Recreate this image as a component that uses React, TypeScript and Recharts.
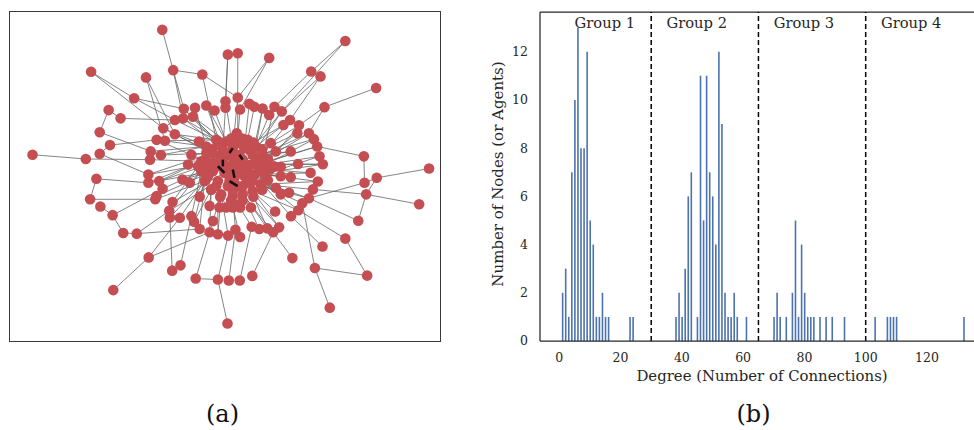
import React from "react";
import {
  ComposedChart,
  Line,
  Scatter,
  Bar,
  XAxis,
  YAxis,
  ReferenceLine,
} from "recharts";

// ---- network layout (a) ----
// node positions in layout units (x to the right, y downwards)
const outerNodes: [number, number][] = [
  [487, 87], [1040, 121], [685, 162], [715, 158], [810, 172], [272, 214],
  [520, 209], [608, 222], [438, 231], [937, 213], [965, 228], [1133, 263],
  [402, 294], [715, 292], [977, 321], [325, 330], [361, 355], [298, 397],
  [329, 436], [95, 465], [256, 478], [298, 462], [1096, 470], [1293, 507],
  [1135, 535], [1098, 550], [1103, 585], [1263, 615], [288, 538], [269, 600],
  [300, 622], [337, 648], [369, 702], [410, 704], [1079, 665], [1040, 719],
  [971, 743], [880, 778], [948, 808], [1106, 831], [993, 928], [446, 776],
  [339, 875], [517, 816], [542, 800], [588, 840], [655, 843], [688, 846],
  [721, 846], [759, 832], [684, 976],
];

const ringNodes: [number, number][] = [
  [552, 326], [586, 323], [620, 316], [645, 331], [678, 303], [678, 323],
  [722, 328], [750, 311], [765, 320], [790, 325], [810, 345], [826, 320],
  [848, 334], [873, 360], [900, 376], [853, 375], [895, 400], [930, 400],
  [945, 418], [955, 440], [962, 470], [972, 494], [935, 520], [957, 546],
  [942, 570], [930, 597], [910, 612], [898, 633], [876, 651], [840, 685],
  [822, 700], [804, 688], [780, 690], [757, 683], [722, 714], [708, 692],
  [686, 710], [655, 706], [630, 700], [600, 690], [583, 668], [575, 651],
  [540, 656], [510, 655], [508, 635], [518, 608], [488, 568], [478, 545],
  [470, 590], [445, 550], [445, 525], [450, 480], [452, 455], [483, 466],
  [470, 420], [495, 423], [525, 403], [490, 385], [525, 360], [550, 355],
  [580, 350], [845, 502], [845, 530], [875, 455], [875, 533], [897, 493],
  [870, 580], [845, 585], [830, 565], [828, 637], [755, 625], [722, 625],
  [700, 625], [680, 625], [660, 625], [630, 620], [640, 666], [600, 592],
  [570, 550], [548, 540], [565, 495], [575, 465], [598, 425], [830, 455],
  [815, 430], [466, 600],
];

const coreNodes: [number, number][] = [
  [620, 440], [650, 420], [680, 425], [715, 415], [745, 420], [770, 440],
  [790, 465], [800, 495], [795, 525], [785, 555], [760, 575], [730, 585],
  [700, 590], [665, 585], [635, 570], [615, 545], [605, 515], [605, 485],
  [640, 460], [670, 450], [700, 445], [735, 445], [760, 465], [770, 495],
  [765, 525], [745, 550], [715, 560], [685, 560], [655, 545], [640, 515],
  [640, 490], [670, 480], [700, 475], [730, 480], [745, 505], [735, 530],
  [705, 535], [675, 520], [690, 500], [720, 505], [655, 500], [700, 510],
  [812, 510], [806, 542], [789, 571], [762, 592], [729, 604], [695, 604],
  [662, 592], [635, 571], [618, 542], [612, 510], [618, 478], [635, 449],
  [662, 428], [695, 416], [729, 416], [762, 428], [789, 449], [806, 478],
  [655, 435], [715, 430], [690, 460], [720, 465], [750, 450], [780, 510],
  [755, 495], [725, 520], [690, 530], [660, 470], [625, 500], [625, 530],
  [650, 560], [700, 575], [730, 560], [760, 545], [780, 480], [670, 500],
  [710, 490], [690, 545], [750, 525], [620, 460], [595, 500], [825, 500],
  [712, 400], [712, 618],
];

const outerLinks =
  "o0-o6 o6-o7 o6-r0 o6-r59 o7-o13 o7-c1 o2-r4 o2-r5 o3-o13 o4-o13 o4-r6 o13-c3 o13-c20 " +
  "o1-r12 o1-o9 o9-r11 o10-r13 o10-r12 o11-o14 o14-r14 o14-r17 o5-r57 o5-o12 o8-r56 o8-r55 " +
  "o12-r58 o12-r0 o15-o16 o15-o17 o16-r58 o17-r53 o18-r54 o18-o21 o19-o20 o20-r51 o21-r50 " +
  "o22-r19 o22-o25 o23-o24 o24-o25 o24-o26 o25-r25 o26-r24 o26-o34 o27-o26 o28-r49 o28-o29 " +
  "o29-r85 o30-o31 o31-r46 o31-o32 o32-o33 o33-r44 o33-r39 o34-r25 o35-r27 o35-o39 o36-r28 " +
  "o37-r30 o38-o39 o38-r26 o40-o38 o41-r42 o41-r38 o42-o41 o43-r43 o44-r41 o45-o46 o45-r76 " +
  "o46-o50 o46-r36 o47-r35 o48-r33 o49-r30";

const ringLinks =
  "r0-c1 r1-c0 r2-c19 r3-c2 r4-c20 r5-c19 r6-c3 r7-c21 r8-c4 r9-c22 r10-c5 r11-c6 r12-c22 " +
  "r13-c6 r14-c7 r15-c21 r16-c23 r17-c6 r18-c7 r19-c23 r20-c8 r21-c7 r22-c24 r23-c8 r24-c9 " +
  "r25-c25 r26-c9 r27-c10 r28-c24 r29-c10 r30-c11 r31-c26 r32-c11 r33-c12 r34-c27 r35-c12 " +
  "r36-c13 r37-c28 r38-c14 r39-c15 r40-c14 r41-c16 r42-c15 r43-c29 r44-c16 r45-c17 r46-c16 " +
  "r47-c30 r48-c29 r49-c17 r50-c18 r51-c17 r52-c0 r53-c18 r54-c0 r55-c1 r56-c18 r57-c0 " +
  "r58-c1 r59-c19 r60-c2 r61-c23 r62-c24 r63-c6 r64-c8 r65-c7 r66-c25 r67-c9 r68-c25 " +
  "r69-c10 r70-c26 r71-c27 r72-c12 r73-c13 r74-c28 r75-c14 r76-c13 r77-c15 r78-c16 r79-c29 " +
  "r80-c30 r81-c18 r82-c19 r83-c22 r84-c21 r85-c15 r57-c31 r54-c40 r50-c30 r12-c33 r17-c23 " +
  "r22-c34 r25-c35 r29-c36 r45-c37 r59-c20 r14-c22 r19-c34 r63-c33 r66-c39 r0-c19 r60-c32 " +
  "r44-c28 r49-c29 r21-c24 r18-c33 r16-c22 r57-r58 r52-r53 r46-r48 r45-r43 r26-r27 r21-r65 " +
  "r13-c5 r20-c7 r23-c9 r27-c24 r31-c25 r37-c13 r40-c15 r47-c17 r53-c0 r56-c1 r2-c2 r9-c5";

// the dark bits showing through in the middle of the core
const coreLinks = ["c31-c77", "c41-c36", "c33-c63", "c20-c62", "c37-c40", "c26-c79"];

// ---- degree histogram (b) ----
const degrees = [
  1, 2, 3, 4, 5, 6, 7, 8, 9, 10, 11, 12, 13, 14, 15, 16, 23, 24,
  38, 39, 40, 41, 42, 43, 45, 46, 47, 48, 49, 50, 51, 52, 53, 54, 55, 56, 57, 58, 61,
  70, 71, 72, 74, 76, 77, 78, 79, 80, 81, 82, 83, 85, 87, 89, 93,
  103, 107, 108, 109, 110, 132,
];
const counts = [
  2, 3, 1, 7, 10, 13, 8, 8, 12, 5, 4, 1, 1, 2, 1, 1, 1, 1,
  1, 2, 1, 3, 6, 7, 1, 11, 5, 11, 7, 6, 4, 12, 9, 2, 1, 1, 2, 1, 1,
  1, 2, 1, 1, 2, 5, 1, 4, 2, 1, 1, 1, 1, 1, 1, 1,
  1, 1, 1, 1, 1, 1,
];
const groupStarts = [0, 30, 65, 100];
const groupNames = ["Group 1", "Group 2", "Group 3", "Group 4"];
const xTicks = [0, 20, 40, 60, 80, 100, 120];
const yTicks = [0, 2, 4, 6, 8, 10, 12];

const SERIF = "'DejaVu Serif', serif";
const INK = "#262626";

function nodeAt(id: string): [number, number] {
  const i = Number(id.slice(1));
  if (id[0] === "o") return outerNodes[i];
  if (id[0] === "r") return ringNodes[i];
  return coreNodes[i];
}

// pairs of points with a null in between so the line breaks after each edge
function linkPath(spec: string) {
  const out: { x: number; y: number | null }[] = [];
  spec.split(/\s+/).forEach((pair) => {
    const [a, b] = pair.split("-").map(nodeAt);
    out.push({ x: a[0], y: a[1] });
    out.push({ x: b[0], y: b[1] });
    out.push({ x: b[0], y: null });
  });
  return out;
}

const edgeData = linkPath(outerLinks + " " + ringLinks);
const nodeData = [...outerNodes, ...ringNodes, ...coreNodes].map(([x, y]) => ({ x, y }));
const coreEdgeSets = coreLinks.map((pair) =>
  pair.split("-").map(nodeAt).map(([x, y]) => ({ x, y }))
);

const histData = degrees.map((d, i) => ({ degree: d, count: counts[i] }));

function Network() {
  return (
    <div
      style={{
        position: "absolute",
        left: 9,
        top: 11,
        width: 432,
        height: 331,
        border: "1.5px solid #3a3a3a",
        boxSizing: "border-box",
      }}
    >
      <ComposedChart width={429} height={328} margin={{ top: 0, right: 0, bottom: 0, left: 0 }}>
        <XAxis type="number" dataKey="x" domain={[27, 1323]} allowDataOverflow hide />
        <YAxis type="number" dataKey="y" domain={[33, 1026]} allowDataOverflow reversed hide />
        <Line
          data={edgeData}
          dataKey="y"
          stroke="#666"
          strokeOpacity={0.8}
          strokeWidth={1}
          dot={false}
          activeDot={false}
          connectNulls={false}
          isAnimationActive={false}
        />
        <Scatter
          data={nodeData}
          isAnimationActive={false}
          shape={(p: any) => <circle cx={p.cx} cy={p.cy} r={5.3} fill="#c44e52" />}
        />
        {coreEdgeSets.map((pts, i) => (
          <Scatter
            key={i}
            data={pts}
            isAnimationActive={false}
            line={{ stroke: "#111", strokeWidth: 2.5 }}
            shape={() => <g />}
          />
        ))}
      </ComposedChart>
    </div>
  );
}

function Histogram() {
  return (
    <div style={{ position: "absolute", left: 480, top: 0 }}>
      <ComposedChart
        width={507}
        height={400}
        data={histData}
        margin={{ top: 12, right: 0, bottom: 0, left: 0 }}
      >
        <XAxis
          type="number"
          dataKey="degree"
          domain={[-6.3, 139.6]}
          allowDataOverflow
          ticks={xTicks}
          height={59}
          tickLine={false}
          tickMargin={6}
          axisLine={{ stroke: INK, strokeWidth: 1.25 }}
          tick={{ fill: INK, fontSize: 12.5, fontFamily: SERIF }}
          label={() => (
            <text x={282} y={381} textAnchor="middle" fill={INK} fontSize={14.9} fontFamily={SERIF}>
              Degree (Number of Connections)
            </text>
          )}
        />
        <YAxis
          type="number"
          domain={[0, 13.65]}
          allowDataOverflow
          ticks={yTicks}
          width={60}
          tickLine={false}
          tickMargin={6}
          axisLine={{ stroke: INK, strokeWidth: 1.25 }}
          tick={{ fill: INK, fontSize: 12.5, fontFamily: SERIF }}
          label={() => (
            <text
              x={23}
              y={174}
              transform="rotate(-90 23 174)"
              textAnchor="middle"
              fill={INK}
              fontSize={15}
              fontFamily={SERIF}
            >
              Number of Nodes (or Agents)
            </text>
          )}
        />
        <Bar dataKey="count" fill="#4c72b0" barSize={1.6} isAnimationActive={false} />
        <ReferenceLine y={13.65} stroke={INK} strokeWidth={1.25} />
        {groupStarts.map((g, i) => (
          <ReferenceLine
            key={g}
            x={g}
            stroke={i === 0 ? "none" : "#000"}
            strokeWidth={1.5}
            strokeDasharray="5 3"
            label={(p: any) => (
              <text
                x={p.viewBox.x + 15.3}
                y={27.5}
                fill={INK}
                fontSize={14.7}
                fontFamily={SERIF}
              >
                {groupNames[i]}
              </text>
            )}
          />
        ))}
      </ComposedChart>
    </div>
  );
}

export default function App() {
  return (
    <div
      style={{
        position: "absolute",
        left: 0,
        top: 0,
        width: 974,
        height: 430,
        overflow: "hidden",
        background: "#fff",
      }}
    >
      <Network />
      <Histogram />
      <svg width={974} height={430} style={{ position: "absolute", left: 0, top: 0, pointerEvents: "none" }}>
        <text x={222.5} y={422} textAnchor="middle" fontSize={24} fontFamily={SERIF} fill="#111">
          (a)
        </text>
        <text x={753.5} y={422} textAnchor="middle" fontSize={24} fontFamily={SERIF} fill="#111">
          (b)
        </text>
      </svg>
    </div>
  );
}
